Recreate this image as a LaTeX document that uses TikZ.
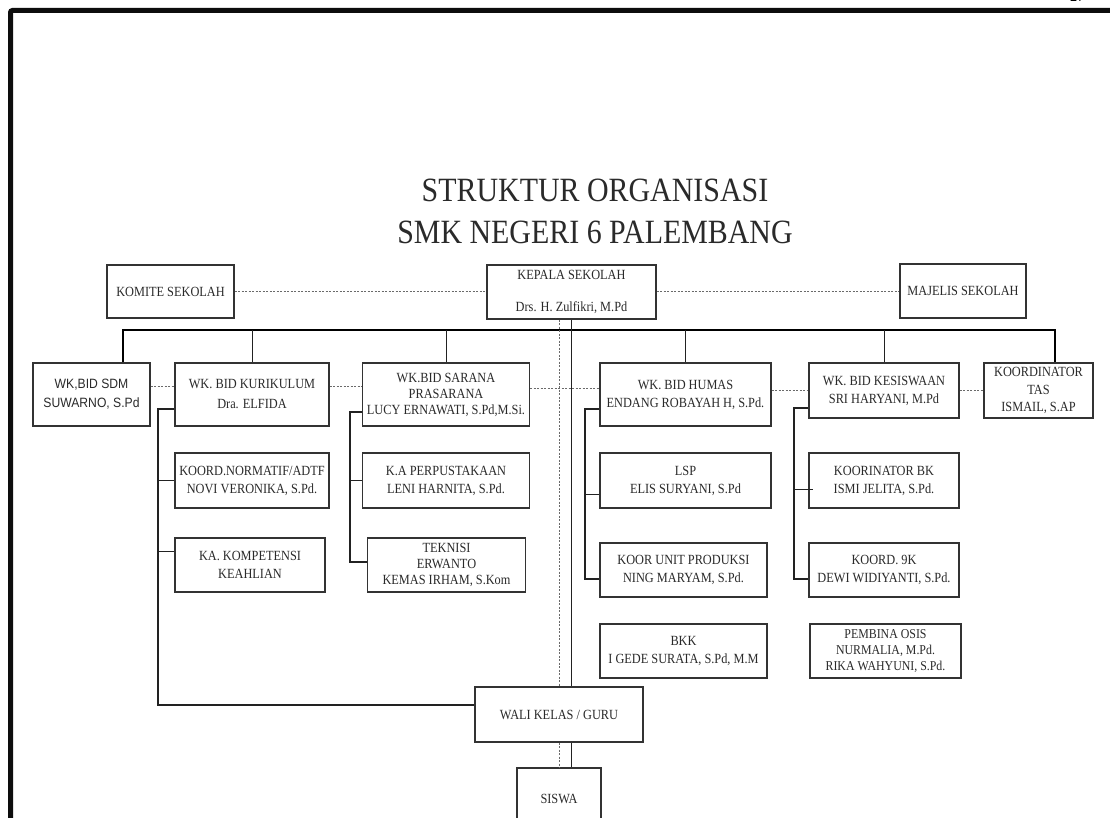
\documentclass[tikz,border=0pt]{standalone}
\usepackage{fontspec}
\setmainfont[FakeStretch=0.88]{Liberation Serif}
\newfontfamily\arialfont[FakeStretch=0.9]{Liberation Sans}
\definecolor{boxc}{HTML}{333333}
\definecolor{txt}{HTML}{2A2A2A}
\definecolor{linec}{HTML}{222222}
\definecolor{dotc}{HTML}{6A6A6A}
\begin{document}
\begin{tikzpicture}[x=1pt,y=-1pt,
  box/.style={draw=boxc, line width=1.2pt, fill=white, text=txt,
    font=\fontsize{14}{18}\selectfont, align=center, inner sep=0pt},
  dotline/.style={draw=dotc, line width=0.9pt, dash pattern=on 2pt off 1.5pt},
  busline/.style={draw=black, line width=2.6pt},
  thinline/.style={draw=linec, line width=1pt},
  subline/.style={draw=linec, line width=2pt},
  border/.style={draw=black!95, line width=5pt}]
\useasboundingbox (0,0) rectangle (1110,818);
\fill[white] (0,0) rectangle (1110,818);

% page frame and page number
\coordinate (fa) at (10.5,830);
\coordinate (fb) at (10.5,10.5);
\coordinate (fc) at (1125,10.5);
\draw[border, rounded corners=2pt] (fa) -- (fb) -- (fc);
\node[font=\arialfont\fontsize{14}{14}\selectfont, anchor=base, text=black] (pg) at (1077,2) {27};

% title
\node[text=txt, font=\fontsize{34}{42}\selectfont, align=center] (title) at (595,211)
  {STRUKTUR ORGANISASI\\SMK NEGERI 6 PALEMBANG};

% top row
\node[box, minimum width=127pt, minimum height=53pt] (komite) at (170.5,291.5) {KOMITE SEKOLAH};
\node[box, minimum width=169pt, minimum height=54pt] (kepala) at (571.5,292) {KEPALA SEKOLAH\\[14pt]Drs. H. Zulfikri, M.Pd};
\node[box, minimum width=126pt, minimum height=54pt] (majelis) at (963,291) {MAJELIS SEKOLAH};

% second row
\node[box, font=\arialfont\fontsize{13.5}{19}\selectfont, minimum width=117pt, minimum height=63pt] (sdm) at (91.5,394.5) {WK,BID SDM\\SUWARNO, S.Pd};
\node[box, minimum width=154pt, minimum height=63pt] (kur) at (252,394.5) {WK. BID KURIKULUM\\[2pt]Dra. ELFIDA};
\node[box, font=\fontsize{14}{16}\selectfont, minimum width=167pt, minimum height=63pt] (sar) at (446,394.5) {WK.BID SARANA\\PRASARANA\\LUCY ERNAWATI, S.Pd,M.Si.};
\node[box, minimum width=171pt, minimum height=63pt] (hum) at (685.5,394.5) {WK. BID HUMAS\\ENDANG ROBAYAH H, S.Pd.};
\node[box, minimum width=150pt, minimum height=55pt] (kes) at (884,390.5) {WK. BID KESISWAAN\\SRI HARYANI, M.Pd};
\node[box, font=\fontsize{14}{17.5}\selectfont, minimum width=109pt, minimum height=55pt] (tas) at (1038.5,390.5) {KOORDINATOR\\TAS\\ISMAIL, S.AP};

% third / fourth rows
\node[box, minimum width=154pt, minimum height=55pt] (norm) at (252,480.5) {KOORD.NORMATIF/ADTF\\NOVI VERONIKA, S.Pd.};
\node[box, minimum width=150pt, minimum height=54pt] (komp) at (250,565) {KA. KOMPETENSI\\KEAHLIAN};
\node[box, minimum width=167pt, minimum height=55pt] (perp) at (446,480.5) {K.A PERPUSTAKAAN\\LENI HARNITA, S.Pd.};
\node[box, font=\fontsize{14}{16}\selectfont, minimum width=158pt, minimum height=54pt] (tek) at (446.5,565) {TEKNISI\\ERWANTO\\KEMAS IRHAM, S.Kom};
\node[box, minimum width=171pt, minimum height=55pt] (lsp) at (685.5,480.5) {LSP\\ELIS SURYANI, S.Pd};
\node[box, minimum width=167pt, minimum height=54pt] (unit) at (683.5,570) {KOOR UNIT PRODUKSI\\NING MARYAM, S.Pd.};
\node[box, minimum width=150pt, minimum height=55pt] (bk) at (884,480.5) {KOORINATOR BK\\ISMI JELITA, S.Pd.};
\node[box, minimum width=150pt, minimum height=54pt] (k9) at (884,570) {KOORD. 9K\\DEWI WIDIYANTI, S.Pd.};
\node[box, minimum width=167pt, minimum height=54pt] (bkk) at (683.5,651) {BKK\\I GEDE SURATA, S.Pd, M.M};
\node[box, font=\fontsize{13.5}{16}\selectfont, minimum width=151pt, minimum height=54pt] (osis) at (885.5,651) {PEMBINA OSIS\\NURMALIA, M.Pd.\\RIKA WAHYUNI, S.Pd.};
\node[box, minimum width=168pt, minimum height=55pt] (wali) at (559,714.5) {WALI KELAS / GURU};
\node[box, minimum width=84pt, minimum height=62pt] (siswa) at (559,799) {SISWA};

% dotted links, top row
\draw[dotline] (komite.east) -- (kepala.west |- komite.east);
\draw[dotline] (kepala.east |- majelis.west) -- (majelis.west);

% bus
\coordinate (busL) at (123,330);
\coordinate (busR) at (1055,330);
\draw[busline] (busL |- sdm.north) -- (busL) -- (busR) -- (busR |- tas.north);
\draw[thinline] (kur.north) -- (kur.north |- busL);
\draw[thinline] (sar.north) -- (sar.north |- busL);
\draw[thinline] (hum.north) -- (hum.north |- busL);
\draw[thinline] (kes.north) -- (kes.north |- busL);

% central verticals
\coordinate (solidx) at (571,0);
\draw[thinline] (kepala.south -| solidx) -- (wali.north -| solidx);
\draw[thinline] (wali.south -| solidx) -- (siswa.north -| solidx);
\draw[dotline] (kepala.south -| wali.north) -- (wali.north);
\draw[dotline] (wali.south) -- (siswa.north);

% dotted links, second row
\coordinate (ra) at (0,386);
\coordinate (rb) at (0,388);
\coordinate (rc) at (0,390);
\draw[dotline] (sdm.east |- ra) -- (kur.west |- ra);
\draw[dotline] (kur.east |- ra) -- (sar.west |- ra);
\draw[dotline] (sar.east |- rb) -- (hum.west |- rb);
\draw[dotline] (hum.east |- rc) -- (kes.west |- rc);
\draw[dotline] (kes.east |- rc) -- (tas.west |- rc);

% kurikulum subtree
\coordinate (k1) at (158,409);
\coordinate (k2) at (158,551);
\coordinate (k3) at (158,705);
\draw[subline] (kur.west |- k1) -- (k1) -- (k3) -- (wali.west |- k3);
\draw[thinline] (k1 |- norm.west) -- (norm.west);
\draw[thinline] (k2) -- (komp.west |- k2);

% sarana subtree
\coordinate (s1) at (350,412);
\coordinate (s2) at (350,562);
\draw[subline] (sar.west |- s1) -- (s1) -- (s2) -- (tek.west |- s2);
\draw[thinline] (s1 |- perp.west) -- (perp.west);

% humas subtree
\coordinate (h1) at (585,409);
\coordinate (h2) at (585,494);
\coordinate (h3) at (585,579);
\draw[subline] (hum.west |- h1) -- (h1) -- (h3) -- (unit.west |- h3);
\draw[thinline] (h2) -- (lsp.west |- h2);

% kesiswaan subtree
\coordinate (e1) at (794,408);
\coordinate (e2) at (794,489);
\coordinate (e3) at (794,579);
\coordinate (e4) at (813,489);
\draw[subline] (kes.west |- e1) -- (e1) -- (e3) -- (k9.west |- e3);
\draw[thinline] (e2) -- (e4);
\end{tikzpicture}
\end{document}
